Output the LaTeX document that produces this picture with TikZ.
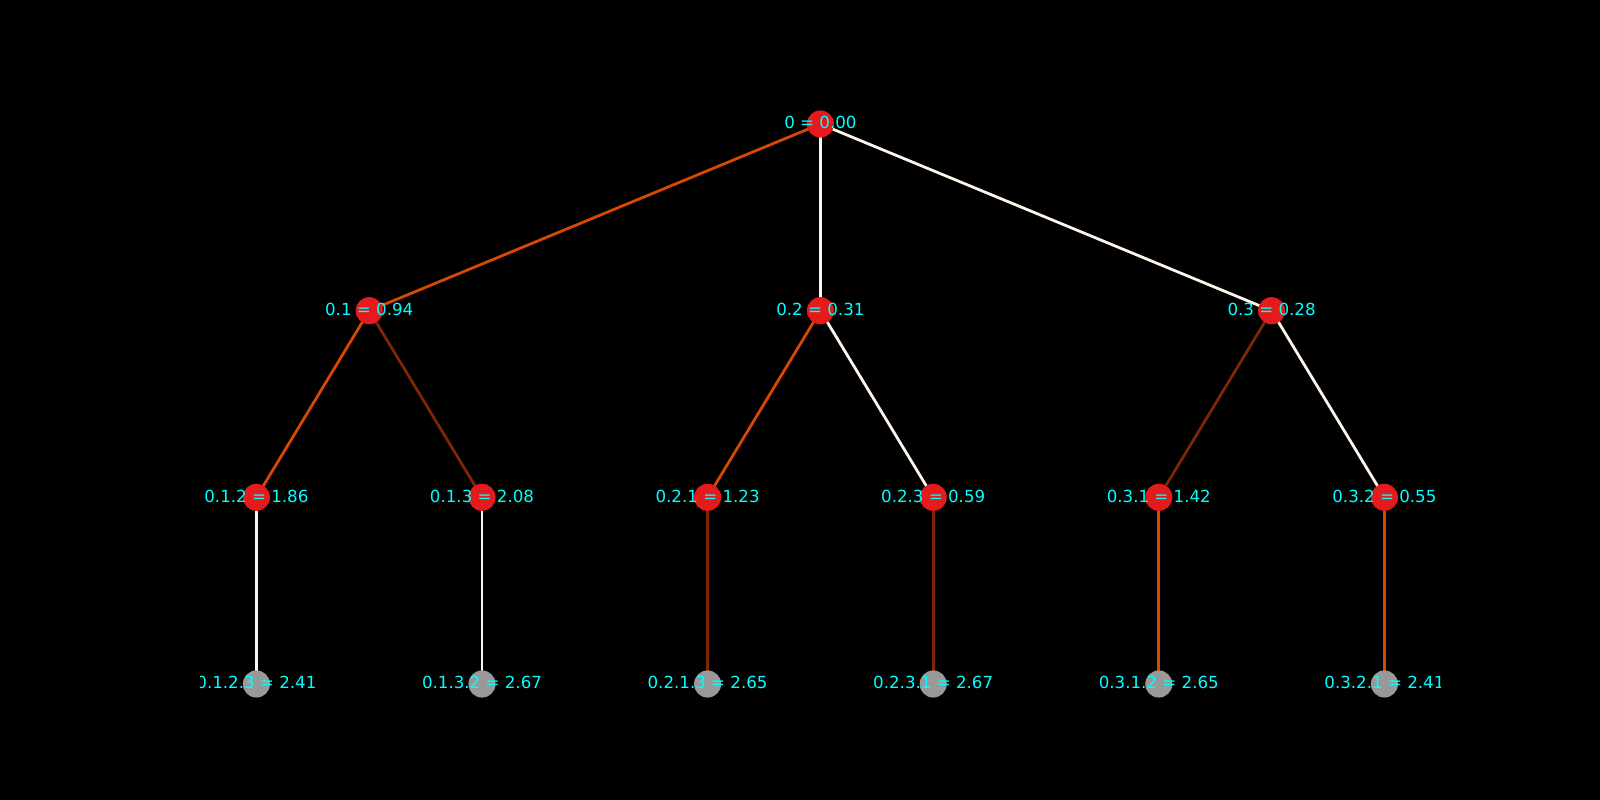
\documentclass[tikz,border=0pt]{standalone}
\usepackage{fontspec}
\setmainfont{DejaVu Sans}
\usepackage{tikz}
\usetikzlibrary{backgrounds}

\definecolor{noderd}{RGB}{228,26,28}
\definecolor{leafgr}{RGB}{153,153,153}
\definecolor{edgeor}{RGB}{217,72,1}
\definecolor{edgebr}{RGB}{127,39,4}
\definecolor{edgewh}{RGB}{255,245,235}
\definecolor{labcy}{RGB}{0,255,255}

\begin{document}
\begin{tikzpicture}[x=0.72pt, y=-0.72pt]
            % Define styles
            \tikzstyle{inner} = [circle, fill=noderd, minimum size=19.54pt, inner sep=0pt]
            \tikzstyle{leaf} = [circle, fill=leafgr, minimum size=19.54pt, inner sep=0pt]
            \tikzstyle{lbl} = [text=labcy, inner sep=0pt, anchor=center, yshift=0.8pt, font=\fontsize{12}{14}\selectfont]
            \tikzstyle{edge} = [line width=2pt]

            % Frame
            \useasboundingbox (0,0) rectangle (1600,800);

            % Root
            \node[inner] (n0) at (820.4,124) {};

            % Level 1
            \node[inner] (n01) at (369.2,310.7) {};
            \node[inner] (n02) at (820.4,310.7) {};
            \node[inner] (n03) at (1271.6,310.7) {};

            % Level 2
            \node[inner] (n012) at (256.4,497.3) {};
            \node[inner] (n013) at (482.0,497.3) {};
            \node[inner] (n021) at (707.6,497.3) {};
            \node[inner] (n023) at (933.2,497.3) {};
            \node[inner] (n031) at (1158.8,497.3) {};
            \node[inner] (n032) at (1384.4,497.3) {};

            % Leaves
            \node[leaf] (n0123) at (256.4,684) {};
            \node[leaf] (n0132) at (482.0,684) {};
            \node[leaf] (n0213) at (707.6,684) {};
            \node[leaf] (n0231) at (933.2,684) {};
            \node[leaf] (n0312) at (1158.8,684) {};
            \node[leaf] (n0321) at (1384.4,684) {};

            % Edges behind the nodes
            \begin{scope}[on background layer]
                \fill[black] (0,0) rectangle (1600,800);
                \draw[edge, edgeor] (n0.center) -- (n01.center);
                \draw[edge, edgewh] (n0.center) -- (n02.center);
                \draw[edge, edgewh] (n0.center) -- (n03.center);

                \draw[edge, edgeor] (n01.center) -- (n012.center);
                \draw[edge, edgebr] (n01.center) -- (n013.center);
                \draw[edge, edgeor] (n02.center) -- (n021.center);
                \draw[edge, edgewh] (n02.center) -- (n023.center);
                \draw[edge, edgebr] (n03.center) -- (n031.center);
                \draw[edge, edgewh] (n03.center) -- (n032.center);

                \draw[edge, edgewh] (n012.center) -- (n0123.center);
                \draw[edge, edgewh] (n013.center) -- (n0132.center);
                \draw[edge, edgebr] (n021.center) -- (n0213.center);
                \draw[edge, edgebr] (n023.center) -- (n0231.center);
                \draw[edge, edgeor] (n031.center) -- (n0312.center);
                \draw[edge, edgeor] (n032.center) -- (n0321.center);
            \end{scope}

            % Labels, clipped to the plot area
            \begin{scope}
                \clip (200,96) rectangle (1440,712);
                \node[lbl] (t0) at (n0) {0 = 0.00};
                \node[lbl] (t01) at (n01) {0.1 = 0.94};
                \node[lbl] (t02) at (n02) {0.2 = 0.31};
                \node[lbl] (t03) at (n03) {0.3 = 0.28};
                \node[lbl] (t012) at (n012) {0.1.2 = 1.86};
                \node[lbl] (t013) at (n013) {0.1.3 = 2.08};
                \node[lbl] (t021) at (n021) {0.2.1 = 1.23};
                \node[lbl] (t023) at (n023) {0.2.3 = 0.59};
                \node[lbl] (t031) at (n031) {0.3.1 = 1.42};
                \node[lbl] (t032) at (n032) {0.3.2 = 0.55};
                \node[lbl] (t0123) at (n0123) {0.1.2.3 = 2.41};
                \node[lbl] (t0132) at (n0132) {0.1.3.2 = 2.67};
                \node[lbl] (t0213) at (n0213) {0.2.1.3 = 2.65};
                \node[lbl] (t0231) at (n0231) {0.2.3.1 = 2.67};
                \node[lbl] (t0312) at (n0312) {0.3.1.2 = 2.65};
                \node[lbl] (t0321) at (n0321) {0.3.2.1 = 2.41};
            \end{scope}
\end{tikzpicture}
\end{document}
